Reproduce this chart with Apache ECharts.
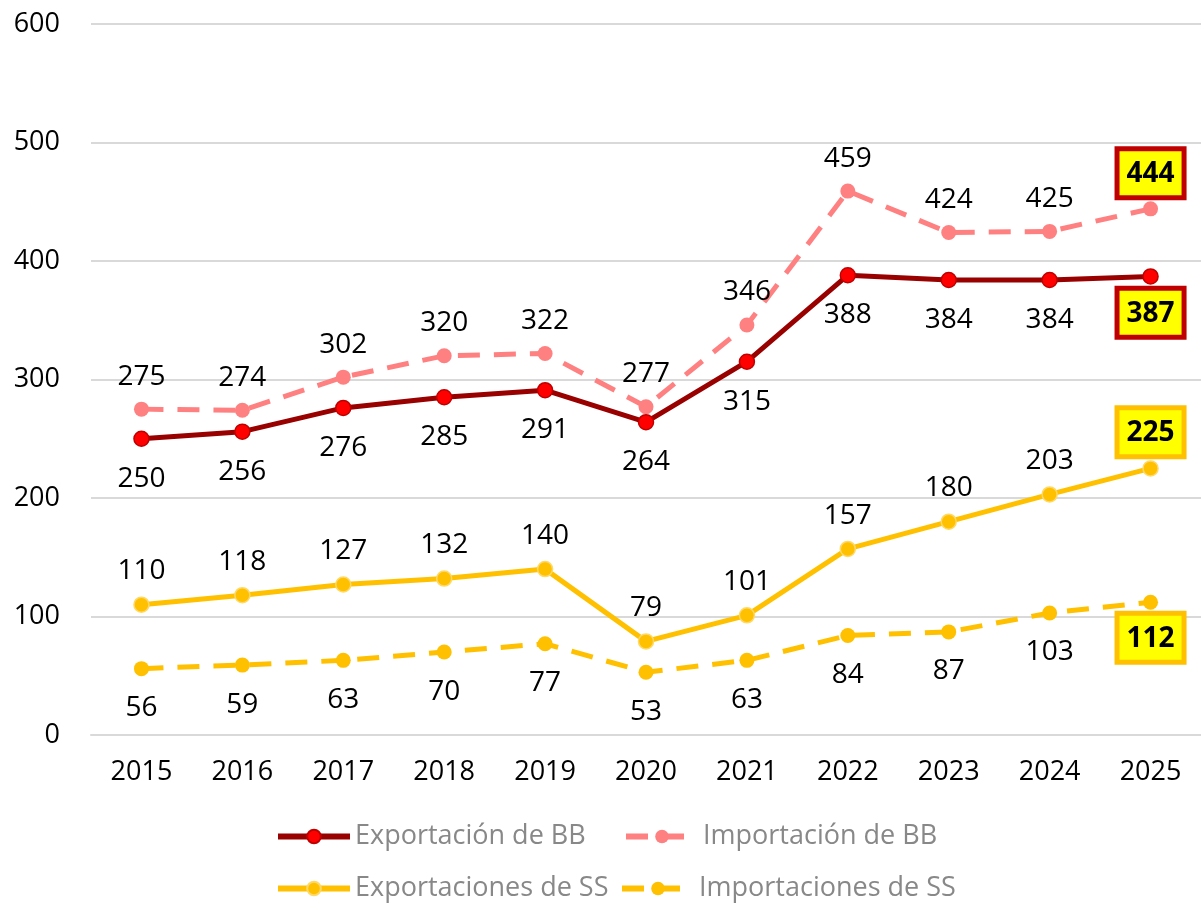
<!DOCTYPE html>
<html lang="es">
<head>
    <meta charset="utf-8">
    <title>Exportaciones e importaciones</title>
    <script src="https://cdn.jsdelivr.net/npm/echarts@6/dist/echarts.min.js"></script>
    <style>
        html, body { margin: 0; padding: 0; background: #fff; }
        #chart { width: 1201px; height: 908px; }
    </style>
</head>
<body>
<div id="chart"></div>
<script type="text/javascript">
    // datos
    var years = ['2015', '2016', '2017', '2018', '2019', '2020', '2021', '2022', '2023', '2024', '2025'];
    var exportBB = [250, 256, 276, 285, 291, 264, 315, 388, 384, 384, 387];
    var importBB = [275, 274, 302, 320, 322, 277, 346, 459, 424, 425, 444];
    var exportSS = [110, 118, 127, 132, 140, 79, 101, 157, 180, 203, 225];
    var importSS = [56, 59, 63, 70, 77, 53, 63, 84, 87, 103, 112];
    var yTicks = [0, 100, 200, 300, 400, 500, 600];

    var FONT = '"Open Sans", "Noto Sans", sans-serif';

    // el ultimo punto lleva etiqueta en recuadro amarillo
    function withLastBox(values, pos, borderColor) {
        return values.map(function (v, i) {
            if (i < values.length - 1) return v;
            return {
                value: v,
                label: {
                    position: pos,
                    distance: 6,
                    fontWeight: 'bold',
                    fontSize: 28,
                    backgroundColor: '#FFFF00',
                    borderColor: borderColor,
                    borderWidth: 5,
                    padding: [5, 7, 3, 7],
                    lineHeight: 36
                }
            };
        });
    }

    function lineSeries(name, values, color, dashed, symbolColor, symbolBorder, labelPos, boxColor, z) {
        return {
            name: name,
            type: 'line',
            data: withLastBox(values, labelPos, boxColor),
            z: z,
            symbol: 'circle',
            symbolSize: 15,
            lineStyle: { color: color, width: 5, type: dashed ? [22, 14] : 'solid' },
            itemStyle: {
                color: symbolColor,
                borderColor: symbolBorder,
                borderWidth: symbolBorder ? 1.5 : 0
            },
            label: {
                show: true,
                position: labelPos,
                distance: labelPos === 'top' ? 11 : 18,
                color: '#000',
                fontFamily: FONT,
                fontSize: 28
            },
            emphasis: { disabled: true },
            animation: false
        };
    }

    function legendAt(name, left, top) {
        return {
            data: [name],
            left: left,
            top: top,
            itemWidth: 72,
            itemHeight: 17,
            itemGap: 10,
            lineStyle: { width: 6 },
            textStyle: { color: '#888', fontFamily: FONT, fontSize: 27 }
        };
    }

    var chart = echarts.init(document.getElementById('chart'));
    var option = {
        backgroundColor: '#fff',
        grid: { left: 91, right: -1, top: 24, bottom: 173, containLabel: false },
        legend: [
            legendAt('Exportación de BB', 270, 818),
            legendAt('Importación de BB', 618, 818),
            legendAt('Exportaciones de SS', 270, 870),
            legendAt('Importaciones de SS', 614, 870)
        ],
        xAxis: {
            type: 'category',
            data: years,
            boundaryGap: true,
            axisLine: { show: true, lineStyle: { color: '#D9D9D9', width: 2 } },
            axisTick: { show: false },
            axisLabel: { color: '#000', fontFamily: FONT, fontSize: 27, margin: 24 }
        },
        yAxis: {
            type: 'value',
            min: yTicks[0],
            max: yTicks[yTicks.length - 1],
            interval: 100,
            axisLine: { show: false },
            axisTick: { show: false },
            splitLine: { lineStyle: { color: '#D9D9D9', width: 2 } },
            axisLabel: { color: '#000', fontFamily: FONT, fontSize: 27, margin: 31 }
        },
        series: [
            lineSeries('Importación de BB', importBB, '#FF8080', true, '#FF8080', null, 'top', '#C00000', 2),
            lineSeries('Exportación de BB', exportBB, '#990000', false, '#FF0000', '#C00000', 'bottom', '#C00000', 3),
            lineSeries('Importaciones de SS', importSS, '#FFC000', true, '#FFC000', null, 'bottom', '#FFC000', 2),
            lineSeries('Exportaciones de SS', exportSS, '#FFC000', false, '#FFC000', '#FFD966', 'top', '#FFC000', 3)
        ]
    };
    chart.setOption(option);
</script>
</body>
</html>
